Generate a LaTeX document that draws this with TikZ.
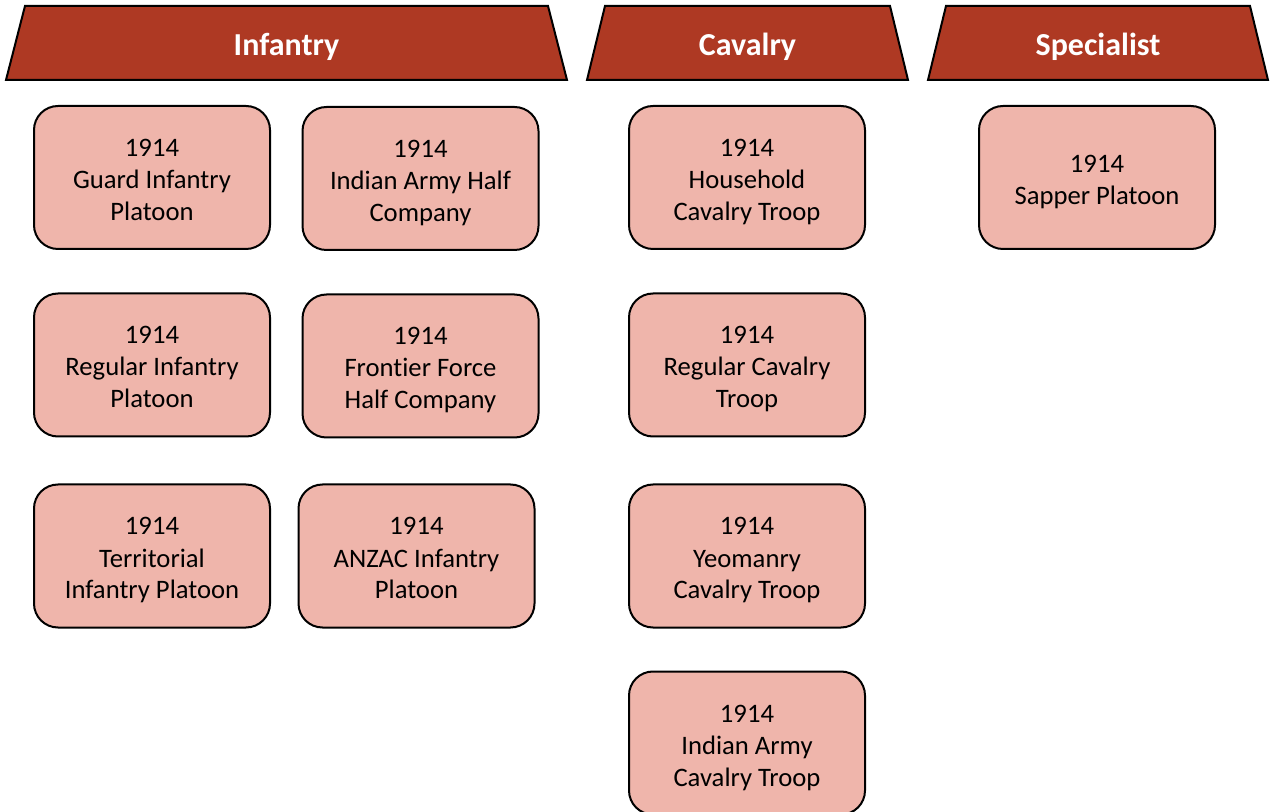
\documentclass[tikz,border=0pt]{standalone}
\usepackage{fontspec}
\setmainfont{Carlito}[Ligatures=NoCommon]
\definecolor{hdrred}{RGB}{174,57,35}
\definecolor{unitfill}{RGB}{239,181,171}
% struts giving every unit label the same top and bottom extent
\newcommand\unittop{\rule{0pt}{21pt}}
\newcommand\unitbot{\rule[-4.5pt]{0pt}{0pt}}

\begin{document}
\begin{tikzpicture}[x=0.75pt,y=-0.75pt,
  hdrshape/.style={draw=black, line width=1.5pt, fill=hdrred, line join=miter},
  hdrtext/.style={text=white, font=\bfseries\fontsize{24}{28}\selectfont,
    inner sep=0pt, text height=24pt, text depth=4.5pt},
  unit/.style={draw=black, line width=1.5pt, fill=unitfill, rounded corners=18pt,
    minimum width=177pt, minimum height=107.25pt, align=center,
    font=\fontsize{20}{24}\selectfont, inner sep=0pt}]
\useasboundingbox (0,0) rectangle (1271,812);

% column headers
\path[hdrshape] (6,80) -- (25,6) -- (548,6) -- (567,80) -- cycle;
\node[hdrtext] (inf) at (286.5,43) {Infantry};
\path[hdrshape] (587,80) -- (605,6) -- (890,6) -- (908,80) -- cycle;
\node[hdrtext] (cav) at (747.5,43) {Cavalry};
\path[hdrshape] (928,80) -- (946,6) -- (1250,6) -- (1268,80) -- cycle;
\node[hdrtext] (spec) at (1098,43) {Specialist};

% infantry units
\node[unit] (guard) at (152,177.5) {\unittop 1914\\Guard Infantry\\Platoon\unitbot};
\node[unit] (regi) at (152,365) {\unittop 1914\\Regular Infantry\\Platoon\unitbot};
\node[unit] (terr) at (152,556) {\unittop 1914\\Territorial\\Infantry Platoon\unitbot};
\node[unit] (indhalf) at (420.5,178.5) {\unittop 1914\\Indian Army Half\\Company\unitbot};
\node[unit] (front) at (420.5,366) {\unittop 1914\\Frontier Force\\Half Company\unitbot};
\node[unit] (anzac) at (416.5,556) {\unittop 1914\\ANZAC Infantry\\Platoon\unitbot};

% cavalry units
\node[unit] (house) at (747,177.5) {\unittop 1914\\Household\\Cavalry Troop\unitbot};
\node[unit] (regc) at (747,365) {\unittop 1914\\Regular Cavalry\\Troop\unitbot};
\node[unit] (yeo) at (747,556) {\unittop 1914\\Yeomanry\\Cavalry Troop\unitbot};
\node[unit] (indcav) at (747,743) {\unittop 1914\\Indian Army\\Cavalry Troop\unitbot};

% specialist units
\node[unit] (sapper) at (1097,177.5) {\unittop 1914\\Sapper Platoon\unitbot};
\end{tikzpicture}
\end{document}
